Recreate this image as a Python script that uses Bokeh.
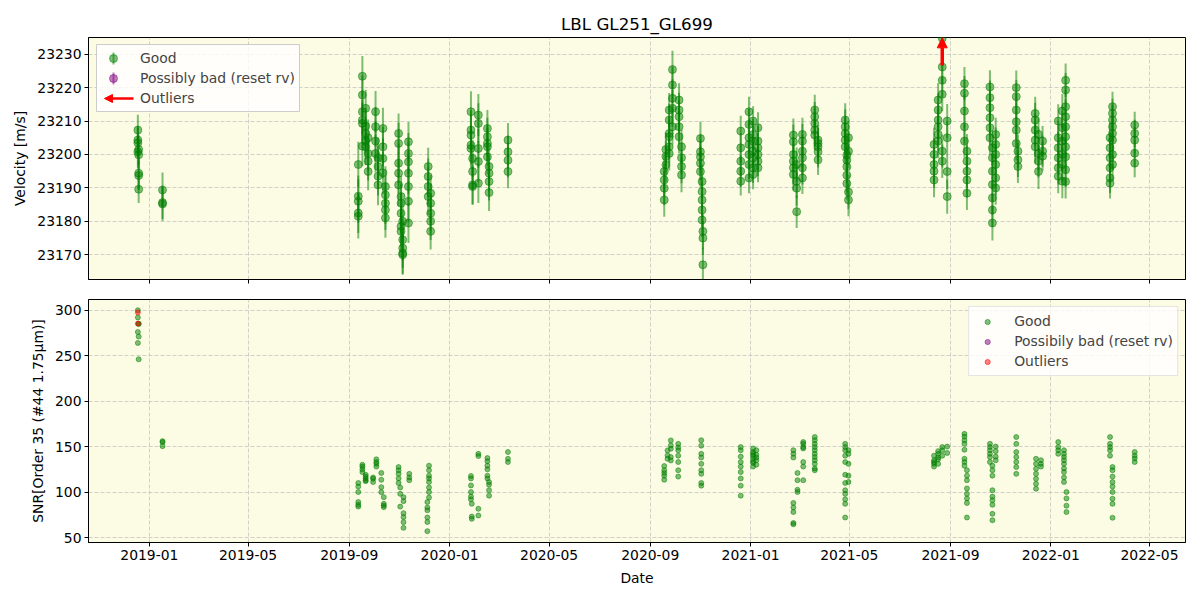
import pandas as pd
from bokeh.plotting import figure
from bokeh.layouts import column
from bokeh.models import (ColumnDataSource, Range1d, FixedTicker, DatetimeTickFormatter,
                          Legend, LegendItem, Arrow, NormalHead, CustomLabelingPolicy,
                          BoxAnnotation)
from bokeh.embed import file_html
from bokeh.resources import INLINE

# ---------------- data ----------------
title_text = "LBL GL251_GL699"
x_tick_labels = ["2019-01", "2019-05", "2019-09", "2020-01", "2020-05", "2020-09",
                 "2021-01", "2021-05", "2021-09", "2022-01", "2022-05"]
x_start = "2018-10-19"
x_end = "2022-06-13T18:00"
rv_ticks = [23170, 23180, 23190, 23200, 23210, 23220, 23230]
rv_limits = [23162.6, 23235.0]
snr_ticks = [50, 100, 150, 200, 250, 300]
snr_limits = [44.5, 311.8]

rv_dates = (
    ["2018-12-18"] * 4 + ["2018-12-19"] * 5 + ["2019-01-17"] * 3 +
    ["2019-09-12"] * 5 + ["2019-09-17"] * 6 + ["2019-09-21"] * 5 + ["2019-09-24"] * 4 +
    ["2019-10-03"] * 4 + ["2019-10-06"] * 4 + ["2019-10-12"] * 4 + ["2019-10-15"] * 5 +
    ["2019-10-31"] * 5 + ["2019-11-03"] * 5 + ["2019-11-05"] * 5 + ["2019-11-12"] * 7 +
    ["2019-12-06"] * 4 + ["2019-12-09"] * 5 +
    ["2020-01-27"] * 5 + ["2020-01-29"] * 4 + ["2020-02-05"] * 5 + ["2020-02-16"] * 5 +
    ["2020-02-18"] * 4 + ["2020-03-12"] * 4 +
    ["2020-09-18"] * 4 + ["2020-09-20"] * 3 + ["2020-09-24"] * 6 + ["2020-09-28"] * 5 +
    ["2020-10-06"] * 5 + ["2020-10-09"] * 4 + ["2020-11-01"] * 5 + ["2020-11-03"] * 5 +
    ["2020-11-04"] * 3 +
    ["2020-12-20"] * 5 + ["2020-12-30"] * 7 + ["2021-01-04"] * 7 + ["2021-01-10"] * 6 +
    ["2021-02-22"] * 6 + ["2021-02-26"] * 4 + ["2021-03-05"] * 6 + ["2021-03-20"] * 5 +
    ["2021-03-24"] * 5 + ["2021-04-26"] * 5 + ["2021-04-28"] * 5 + ["2021-04-30"] * 4 +
    ["2021-08-12"] * 5 + ["2021-08-17"] * 6 + ["2021-08-22"] * 6 + ["2021-08-28"] * 4 +
    ["2021-09-18"] * 5 + ["2021-09-21"] * 5 + ["2021-10-19"] * 6 + ["2021-10-22"] * 7 +
    ["2021-10-26"] * 6 + ["2021-11-20"] * 6 + ["2021-11-22"] * 3 + ["2021-12-13"] * 5 +
    ["2021-12-17"] * 4 + ["2021-12-22"] * 3 +
    ["2022-01-10"] * 6 + ["2022-01-15"] * 6 + ["2022-01-19"] * 10 +
    ["2022-03-14"] * 6 + ["2022-03-17"] * 8 + ["2022-04-13"] * 5
)

rv_values = [
    23207.3, 23204.3, 23203.5, 23200.8,
    23201.5, 23199.9, 23194.4, 23193.7, 23189.6,
    23189.4, 23185.6, 23185.2,
    23197.0, 23187.5, 23186.0, 23182.5, 23181.5,
    23223.4, 23217.8, 23212.8, 23210.3, 23209.3, 23202.5,
    23213.8, 23208.5, 23206.3, 23204.0, 23202.3,
    23205.0, 23200.3, 23198.0, 23194.9,
    23212.8, 23208.3, 23204.0, 23200.3,
    23199.0, 23196.4, 23193.5, 23190.9,
    23207.8, 23202.3, 23198.8, 23194.5,
    23190.4, 23187.9, 23185.4, 23183.4, 23181.0,
    23206.3, 23203.3, 23197.4, 23194.4, 23190.9,
    23187.4, 23185.4, 23182.4, 23178.5, 23177.0,
    23180.0, 23174.5, 23172.0, 23170.5, 23170.0,
    23203.8, 23200.3, 23197.8, 23194.4, 23190.4, 23186.0, 23179.5,
    23196.4, 23193.4, 23190.4, 23187.4,
    23188.4, 23185.4, 23182.4, 23180.0, 23177.0,
    23212.8, 23207.3, 23205.8, 23202.8, 23201.8,
    23198.8, 23194.9, 23190.9, 23190.4,
    23211.8, 23209.3, 23201.8, 23197.9, 23191.4,
    23207.8, 23205.3, 23203.3, 23202.3, 23199.3,
    23196.4, 23194.4, 23191.9, 23188.6,
    23204.3, 23200.8, 23198.3, 23194.9,
    23194.9, 23192.4, 23189.9, 23186.4,
    23201.5, 23199.4, 23196.9,
    23213.3, 23210.3, 23206.3, 23205.3, 23202.3, 23200.3,
    23225.4, 23220.8, 23216.8, 23213.8, 23208.3,
    23216.3, 23213.3, 23211.3, 23208.3, 23205.3,
    23202.3, 23199.0, 23196.4, 23193.9,
    23204.8, 23200.8, 23199.3, 23197.4, 23194.9,
    23191.9, 23188.9, 23186.4, 23183.4, 23180.4,
    23177.0, 23175.0, 23167.0,
    23207.0, 23202.0, 23198.0, 23195.0, 23192.0,
    23212.8, 23209.0, 23205.0, 23203.0, 23200.0, 23197.0, 23193.0,
    23210.0, 23206.0, 23204.0, 23201.0, 23199.0, 23196.0, 23194.0,
    23208.0, 23204.0, 23202.0, 23200.0, 23198.0, 23196.0,
    23205.8, 23203.8, 23200.0, 23198.0, 23196.0, 23194.0,
    23197.0, 23192.0, 23189.9, 23182.9,
    23206.0, 23204.0, 23201.0, 23199.0, 23196.0, 23193.0,
    23213.3, 23211.3, 23209.3, 23207.3, 23205.8,
    23204.3, 23203.3, 23202.3, 23200.8, 23198.4,
    23210.3, 23208.3, 23206.3, 23204.3, 23202.3,
    23199.8, 23198.3, 23196.3, 23193.8, 23191.3,
    23205.0, 23201.0, 23188.8, 23186.4,
    23203.0, 23200.0, 23197.0, 23195.0, 23192.4,
    23216.3, 23213.3, 23210.3, 23208.3, 23206.0, 23204.0,
    23234.8, 23226.2, 23222.2, 23218.0, 23201.0, 23198.0,
    23210.0, 23205.0, 23194.9, 23187.4,
    23221.2, 23218.3, 23213.0, 23208.3, 23204.0,
    23201.0, 23198.0, 23195.0, 23192.4, 23188.4,
    23220.2, 23217.0, 23214.0, 23211.0, 23208.0, 23205.0,
    23202.0, 23199.0, 23195.0, 23191.0, 23187.0, 23183.4, 23179.5,
    23206.0, 23203.0, 23200.0, 23197.0, 23193.0, 23190.0,
    23220.0, 23217.3, 23213.3, 23209.8, 23207.3, 23203.3,
    23201.0, 23198.4, 23196.4,
    23212.3, 23210.3, 23207.3, 23204.3, 23202.3,
    23206.0, 23200.3, 23198.0, 23194.9,
    23204.0, 23201.0, 23199.5,
    23210.0, 23205.0, 23202.0, 23199.0, 23196.0, 23193.5,
    23213.0, 23208.0, 23204.0, 23200.0, 23197.0, 23192.0,
    23222.2, 23219.3, 23214.3, 23211.3, 23208.3, 23205.3, 23202.3, 23199.3, 23195.4, 23191.9,
    23205.0, 23202.0, 23199.0, 23196.0, 23193.0, 23191.4,
    23214.3, 23212.3, 23210.3, 23208.3, 23206.3, 23204.3, 23200.0, 23197.0,
    23208.8, 23206.3, 23204.3, 23200.4, 23197.4,
]

rv_errors = [
    4.6, 4.2, 4.4, 4.8,
    4.5, 4.3, 4.7, 4.4, 4.1,
    5.2, 4.9, 5.1,
    6.8, 6.2, 6.5, 6.0, 6.6,
    6.1, 5.8, 6.4, 5.9, 6.2, 6.0,
    5.6, 5.3, 5.7, 5.4, 5.5,
    5.5, 5.2, 5.8, 5.6,
    6.2, 5.9, 6.1, 5.7,
    6.0, 6.3, 5.8, 6.1,
    6.2, 5.9, 6.0, 6.3,
    6.1, 5.8, 6.2, 6.0, 5.9,
    6.0, 6.2, 5.9, 6.1, 6.3,
    6.2, 5.9, 6.0, 6.1, 5.8,
    6.1, 6.3, 5.9, 6.2, 6.0,
    5.9, 6.1, 6.0, 6.2, 5.8, 6.1, 6.0,
    5.6, 5.4, 5.7, 5.5,
    5.5, 5.8, 5.3, 5.6, 5.4,
    6.1, 5.9, 6.2, 5.8, 6.0,
    5.6, 5.4, 5.7, 5.5,
    6.3, 6.0, 5.8, 6.1, 5.9,
    5.5, 5.7, 5.4, 5.6, 5.3,
    5.6, 5.4, 5.7, 5.5,
    5.1, 4.9, 5.2, 5.0,
    5.2, 4.9, 5.1, 5.0,
    5.0, 4.8, 5.2,
    5.1, 4.9, 5.0, 5.2, 4.8, 5.1,
    5.6, 5.4, 5.7, 5.5, 5.3,
    5.0, 5.2, 4.9, 5.1, 5.0,
    5.1, 4.9, 5.0, 5.2,
    5.0, 5.2, 4.9, 5.1, 5.0,
    5.1, 4.9, 5.2, 5.0, 5.1,
    5.2, 5.0, 5.1,
    4.6, 4.4, 4.5, 4.7, 4.3,
    4.5, 4.6, 4.4, 4.7, 4.5, 4.3, 4.6,
    4.4, 4.6, 4.5, 4.3, 4.7, 4.5, 4.4,
    4.6, 4.5, 4.4, 4.7, 4.5, 4.3,
    5.0, 5.2, 4.9, 5.1, 5.0, 4.8,
    5.1, 5.0, 5.2, 4.9,
    5.0, 5.1, 4.9, 5.2, 5.0, 4.8,
    4.6, 4.4, 4.5, 4.7, 4.5,
    4.5, 4.6, 4.4, 4.7, 4.5,
    5.0, 5.2, 4.9, 5.1, 5.0,
    5.1, 4.9, 5.0, 5.2, 4.8,
    5.0, 5.1, 5.2, 4.9,
    5.0, 4.9, 5.1, 5.0, 5.2,
    5.1, 5.0, 4.9, 5.2, 5.0, 5.1,
    4.0, 5.2, 5.0, 5.1, 4.9, 5.0,
    5.1, 5.0, 5.2, 5.1,
    5.0, 5.2, 4.9, 5.1, 5.0,
    5.1, 4.9, 5.0, 5.2, 5.0,
    5.0, 5.1, 4.9, 5.2, 5.0, 5.1,
    5.1, 5.0, 4.9, 5.2, 5.0, 5.1, 5.2,
    5.0, 5.1, 4.9, 5.0, 5.2, 5.0,
    5.1, 5.0, 4.9, 5.2, 5.0, 5.1,
    5.0, 5.1, 4.9,
    5.0, 5.2, 4.9, 5.1, 5.0,
    5.1, 5.0, 4.9, 5.2,
    4.5, 4.6, 4.4,
    5.0, 5.1, 4.9, 5.2, 5.0, 5.1,
    5.1, 5.0, 4.9, 5.2, 5.0, 5.1,
    5.0, 5.1, 4.9, 5.2, 5.0, 5.1, 4.9, 5.0, 5.2, 5.1,
    4.5, 4.6, 4.4, 4.7, 4.5, 4.6,
    4.5, 4.4, 4.6, 4.5, 4.7, 4.4, 4.5, 4.6,
    4.0, 4.1, 3.9, 4.0, 4.2,
]

rv_outlier_dates = ["2021-08-22"]

snr_dates = (
    ["2018-12-18"] * 4 + ["2018-12-19"] * 4 + ["2019-01-17"] * 3 +
    ["2019-09-12"] * 6 + ["2019-09-17"] * 4 + ["2019-09-21"] * 5 + ["2019-09-30"] * 3 +
    ["2019-10-04"] * 4 + ["2019-10-10"] * 4 + ["2019-10-13"] * 4 + ["2019-10-31"] * 5 +
    ["2019-11-02"] * 3 + ["2019-11-06"] * 6 + ["2019-11-13"] * 3 + ["2019-12-05"] * 6 +
    ["2019-12-07"] * 8 +
    ["2020-01-27"] * 6 + ["2020-01-28"] * 3 + ["2020-02-05"] * 4 + ["2020-02-16"] * 6 +
    ["2020-02-18"] * 4 + ["2020-03-12"] * 3 +
    ["2020-09-18"] * 5 + ["2020-09-22"] * 3 + ["2020-09-26"] * 5 + ["2020-10-05"] * 7 +
    ["2020-11-02"] * 9 +
    ["2020-12-20"] * 9 + ["2021-01-04"] * 8 + ["2021-01-08"] * 5 +
    ["2021-02-22"] * 8 + ["2021-02-27"] * 4 + ["2021-03-06"] * 7 + ["2021-03-20"] * 11 +
    ["2021-04-26"] * 12 + ["2021-04-30"] * 5 +
    ["2021-08-12"] * 5 + ["2021-08-17"] * 5 + ["2021-08-22"] * 3 + ["2021-08-28"] * 2 +
    ["2021-09-18"] * 8 + ["2021-09-21"] * 8 + ["2021-10-19"] * 6 + ["2021-10-22"] * 9 +
    ["2021-10-26"] * 4 + ["2021-11-20"] * 7 + ["2021-12-14"] * 7 + ["2021-12-20"] * 3 +
    ["2022-01-10"] * 4 + ["2022-01-17"] * 9 + ["2022-01-20"] * 4 +
    ["2022-03-14"] * 5 + ["2022-03-17"] * 9 + ["2022-04-13"] * 4
)

snr_values = [
    300, 292, 276, 264,
    285, 285, 271, 246,
    156, 155, 150.5,
    110, 106, 100, 89, 86, 84,
    130, 128, 125, 122,
    119, 117, 115, 113, 112,
    116, 114.6, 111,
    136, 133, 131, 128,
    121, 113.5, 105.4, 99.9,
    94.4, 87, 85.3, 83.4,
    127.5, 124, 120, 115, 110,
    105, 98, 84,
    94.4, 90, 76.8, 72.4, 66.9, 60.6,
    120, 116, 113,
    89, 83, 80, 72, 67, 57,
    129, 124, 118, 115, 111, 105, 100, 94,
    117.6, 115, 107.3, 100, 95, 92,
    87, 73, 70.5,
    142, 139.6, 81.6, 74.2,
    137.4, 134, 129, 125, 118, 115,
    111, 108, 102, 96,
    144, 136.6, 133,
    128.6, 124, 121, 118, 113.5,
    145.8, 140.3, 136.6,
    156.8, 151.3, 147.6, 138.5, 134.8,
    153, 149, 146, 140, 133, 124, 117,
    157, 151, 142, 138, 131, 124, 120, 110, 107,
    149.5, 146, 139, 133, 128, 122, 115, 107, 96,
    148, 144, 142, 140, 137, 134, 132, 128,
    146, 141, 138, 135, 130,
    146, 142, 138, 88, 83, 78, 66, 64.5,
    121, 113, 102.5, 100,
    155, 153, 149.5, 148, 133, 128, 113,
    160.5, 157, 153, 149.5, 146, 142, 138.5, 135, 131, 126, 124,
    153, 149.5, 146, 140, 133, 119, 110, 102, 98, 92, 87, 72,
    146, 142, 131, 118, 111,
    140, 135, 133, 131, 128,
    145, 142, 138, 136, 131,
    149.5, 146, 140,
    150, 143,
    164, 161, 157, 153, 146.5, 136.6, 133, 129,
    124, 118, 113, 104, 98, 93, 88, 72,
    153, 149.5, 146, 142, 138.5, 133,
    129, 124, 118, 102, 95, 91, 86, 76, 69,
    150, 145, 139, 135,
    160.5, 153, 144, 138.5, 133, 127.5, 120,
    136.6, 131, 125.5, 120, 114.5, 109, 103.6,
    135, 131, 128,
    155, 149.5, 146, 142,
    146, 142, 138.5, 135, 131, 126, 122, 116, 111,
    100, 93, 85, 78,
    160.5, 153, 149.5, 146, 140,
    127.5, 124, 117, 111, 106, 100, 92.6, 87, 71.7,
    144, 140, 137, 133,
]

snr_outlier_dates = ["2018-12-18", "2018-12-18"]
snr_outlier_values = [297.6, 285.3]

# ---------------- styling ----------------
FONT = "DejaVu Sans"
FS = "13.9px"
BG = "#fcfbe3"
GOOD = "green"
BAD = "purple"
OUT = "red"
NAN = float("nan")

x_range = Range1d(start=pd.Timestamp(x_start), end=pd.Timestamp(x_end))
tick_ms = list(pd.to_datetime(x_tick_labels).values.astype("datetime64[ms]").astype("int64"))


def to_ms(s):
    return float(pd.Timestamp(s).value // 10**6)


def style(p):
    p.background_fill_color = BG
    p.border_fill_color = "white"
    p.outline_line_color = "black"
    p.outline_line_width = 1
    p.grid.grid_line_color = "#b8b8b8"
    p.grid.grid_line_alpha = 0.8
    p.grid.grid_line_dash = "4 2"
    p.grid.grid_line_width = 0.8
    for ax in p.axis:
        ax.major_tick_out = 4
        ax.major_tick_in = 0
        ax.minor_tick_out = 0
        ax.minor_tick_in = 0
        ax.axis_line_color = "black"
        ax.major_tick_line_color = "black"
        ax.major_label_text_font = FONT
        ax.major_label_text_font_size = FS
        ax.major_label_text_color = "black"
        ax.major_label_standoff = 3
        ax.axis_label_text_font = FONT
        ax.axis_label_text_font_size = FS
        ax.axis_label_text_font_style = "normal"
        ax.axis_label_text_color = "black"
        ax.axis_label_standoff = 6
    p.xaxis.ticker = FixedTicker(ticks=tick_ms)
    p.xaxis.formatter = DatetimeTickFormatter(years="%Y-%m", months="%Y-%m", days="%Y-%m",
                                              hours="%Y-%m", minutes="%Y-%m")


def style_legend(lg, gh):
    lg.border_line_color = "#cccccc"
    lg.border_line_width = 1
    lg.background_fill_color = "white"
    lg.background_fill_alpha = 0.8
    lg.label_text_font = FONT
    lg.label_text_font_size = FS
    lg.glyph_width = 28
    lg.glyph_height = gh
    lg.label_height = 20
    lg.label_standoff = 13
    lg.padding = 4
    lg.spacing = 0
    lg.margin = 7


# ---------------- top panel: velocity ----------------
rv_df = pd.DataFrame({"date": pd.to_datetime(rv_dates), "rv": rv_values, "err": rv_errors})
rv_df["lo"] = rv_df["rv"] - rv_df["err"]
rv_df["hi"] = rv_df["rv"] + rv_df["err"]
rv_src = ColumnDataSource(rv_df)

p1 = figure(width=1200, height=297, x_axis_type="datetime", x_range=x_range,
            y_range=Range1d(rv_limits[0], rv_limits[1]),
            output_backend="svg", toolbar_location=None,
            min_border_left=88, min_border_right=15, min_border_top=37, min_border_bottom=18)
style(p1)
p1.yaxis.ticker = FixedTicker(ticks=rv_ticks)
p1.yaxis.axis_label = "Velocity [m/s]"
p1.xaxis.major_label_policy = CustomLabelingPolicy(
    code="for (const i of Array.from(indices)) { indices.unset(i) } return indices")
p1.xaxis.major_label_standoff = 0
p1.title.text = title_text
p1.title.align = "center"
p1.title.text_font = FONT
p1.title.text_font_size = "16.7px"
p1.title.text_font_style = "normal"
p1.title.text_color = "black"
p1.title.standoff = 7

p1.segment(x0="date", y0="lo", x1="date", y1="hi", source=rv_src,
           line_color=GOOD, line_alpha=0.5, line_width=2)
r_good = p1.scatter("date", "rv", source=rv_src, size=8, marker="circle",
                    fill_color=GOOD, fill_alpha=0.5, line_color=GOOD, line_alpha=0.5)
r_bad = p1.scatter(x=[NAN], y=[NAN], size=8, marker="circle",
                   fill_color=BAD, fill_alpha=0.5, line_color=BAD, line_alpha=0.5)
r_out = p1.line(x=[NAN, NAN], y=[NAN, NAN], line_color=OUT, line_alpha=0.0, line_width=2.5)

# outlier arrows pointing up at the top edge (annotations are clipped to the frame,
# so the head is kept just inside it)
for d in rv_outlier_dates:
    t = to_ms(d)
    p1.add_layout(Arrow(end=NormalHead(size=10, fill_color=OUT, line_color=OUT, line_width=1),
                        x_start=t, y_start=rv_limits[1] - 8.4,
                        x_end=t, y_end=rv_limits[1] - 0.1,
                        line_color=OUT, line_width=3.5))

# hand-drawn legend frame (legend itself is transparent so the handles below show)
p1.add_layout(BoxAnnotation(left=8, right=211, top=235, bottom=168,
                            left_units="screen", right_units="screen",
                            top_units="screen", bottom_units="screen",
                            fill_color="white", fill_alpha=0.8,
                            line_color="#cccccc", line_alpha=1.0, line_width=1))
legend_bar_x = 25
for yb, col in ((221, GOOD), (201, BAD)):
    p1.add_layout(Arrow(start=None, end=None, start_units="screen", end_units="screen",
                        x_start=legend_bar_x, y_start=yb - 6, x_end=legend_bar_x, y_end=yb + 6,
                        line_color=col, line_alpha=0.5, line_width=2))
p1.add_layout(Arrow(end=NormalHead(size=8, fill_color=OUT, line_color=OUT, line_width=1),
                    start_units="screen", end_units="screen",
                    x_start=45, y_start=181, x_end=16, y_end=181,
                    line_color=OUT, line_width=2.5))

lg1 = Legend(items=[LegendItem(label="Good", renderers=[r_good]),
                    LegendItem(label="Possibly bad (reset rv)", renderers=[r_bad]),
                    LegendItem(label="Outliers", renderers=[r_out])],
             location="top_left")
style_legend(lg1, 20)
lg1.background_fill_alpha = 0.0
lg1.border_line_alpha = 0.0
p1.add_layout(lg1)

# ---------------- bottom panel: SNR ----------------
snr_src = ColumnDataSource({"date": pd.to_datetime(snr_dates), "snr": snr_values})
snr_out_src = ColumnDataSource({"date": pd.to_datetime(snr_outlier_dates), "snr": snr_outlier_values})

p2 = figure(width=1200, height=303, x_axis_type="datetime", x_range=x_range,
            y_range=Range1d(snr_limits[0], snr_limits[1]),
            output_backend="svg", toolbar_location=None,
            min_border_left=88, min_border_right=15, min_border_top=2, min_border_bottom=58)
style(p2)
p2.yaxis.ticker = FixedTicker(ticks=snr_ticks)
p2.yaxis.axis_label = "SNR[Order 35 (#44 1.75μm)]"
p2.xaxis.axis_label = "Date"
p2.xaxis.axis_label_standoff = 7

s_good = p2.scatter("date", "snr", source=snr_src, size=5, marker="circle",
                    fill_color=GOOD, fill_alpha=0.5, line_color=GOOD, line_alpha=0.5)
s_bad = p2.scatter(x=[NAN], y=[NAN], size=5, marker="circle",
                   fill_color=BAD, fill_alpha=0.5, line_color=BAD, line_alpha=0.5)
s_out = p2.scatter("date", "snr", source=snr_out_src, size=5, marker="circle",
                   fill_color=OUT, fill_alpha=0.5, line_color=OUT, line_alpha=0.5)

lg2 = Legend(items=[LegendItem(label="Good", renderers=[s_good]),
                    LegendItem(label="Possibily bad (reset rv)", renderers=[s_bad]),
                    LegendItem(label="Outliers", renderers=[s_out])],
             location="top_right")
style_legend(lg2, 13)
p2.add_layout(lg2)

layout = column(p1, p2, spacing=0)
open("out.html", "w").write(file_html(layout, INLINE))
